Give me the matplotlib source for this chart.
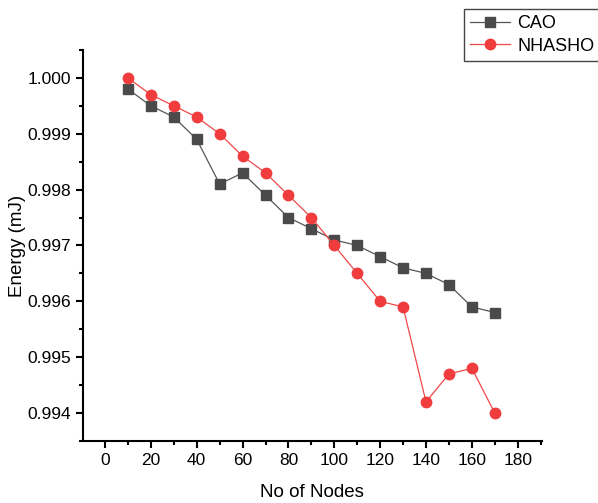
import matplotlib.pyplot as plt
import numpy as np
from matplotlib.ticker import MultipleLocator

plt.rcParams['font.family'] = ['Liberation Sans', 'DejaVu Sans']

nodes = [10, 20, 30, 40, 50, 60, 70, 80, 90, 100, 110, 120, 130, 140, 150, 160, 170]
cao = [0.9998, 0.9995, 0.9993, 0.9989, 0.9981, 0.9983, 0.9979, 0.9975, 0.9973,
       0.9971, 0.9970, 0.9968, 0.9966, 0.9965, 0.9963, 0.9959, 0.9958]
nhasho = [1.0000, 0.9997, 0.9995, 0.9993, 0.9990, 0.9986, 0.9983, 0.9979, 0.9975,
          0.9970, 0.9965, 0.9960, 0.9959, 0.9942, 0.9947, 0.9948, 0.9940]

fig = plt.figure(figsize=(5.98, 5.03), dpi=100)
ax = fig.add_axes([0.1388, 0.1233, 0.906 - 0.1388, 0.9006 - 0.1233])

l1, = ax.plot(nodes, cao, color='#555555', lw=0.9, marker='s', ms=7.5,
              mfc='#4a4a4a', mec='#4a4a4a', label='CAO')
l2, = ax.plot(nodes, nhasho, color='#f04848', lw=0.9, marker='o', ms=7.5,
              mfc='#f03c3c', mec='#f03c3c', label='NHASHO')

ax.set_xlim(-9.6, 190.5)
ax.set_ylim(0.9935, 1.0005)
ax.xaxis.set_major_locator(MultipleLocator(20))
ax.xaxis.set_minor_locator(MultipleLocator(10))
ax.yaxis.set_major_locator(MultipleLocator(0.001))
ax.yaxis.set_minor_locator(MultipleLocator(0.0005))
ax.yaxis.set_major_formatter(plt.FuncFormatter(lambda v, p: f'{v:.3f}'))

for s in ['top', 'right']:
    ax.spines[s].set_visible(False)
for s in ['left', 'bottom']:
    ax.spines[s].set_linewidth(1.5)
ax.tick_params(which='major', direction='out', length=5, width=1.5, labelsize=12.5)
ax.tick_params(which='minor', direction='out', length=3, width=1.5)

ax.set_xlabel('No of Nodes', fontsize=13.5, labelpad=12)
ax.set_ylabel('Energy (mJ)', fontsize=13.5, labelpad=1)

leg = fig.legend(handles=[l1, l2], loc='upper left', bbox_to_anchor=(464 / 598, 1 - 9 / 503),
                 borderaxespad=0, fontsize=13, fancybox=False, framealpha=1,
                 edgecolor='#444444', handlelength=2.2, borderpad=0.35,
                 labelspacing=0.3, handletextpad=0.4)
leg.get_frame().set_linewidth(1.0)

plt.savefig('out.png', dpi=100)
